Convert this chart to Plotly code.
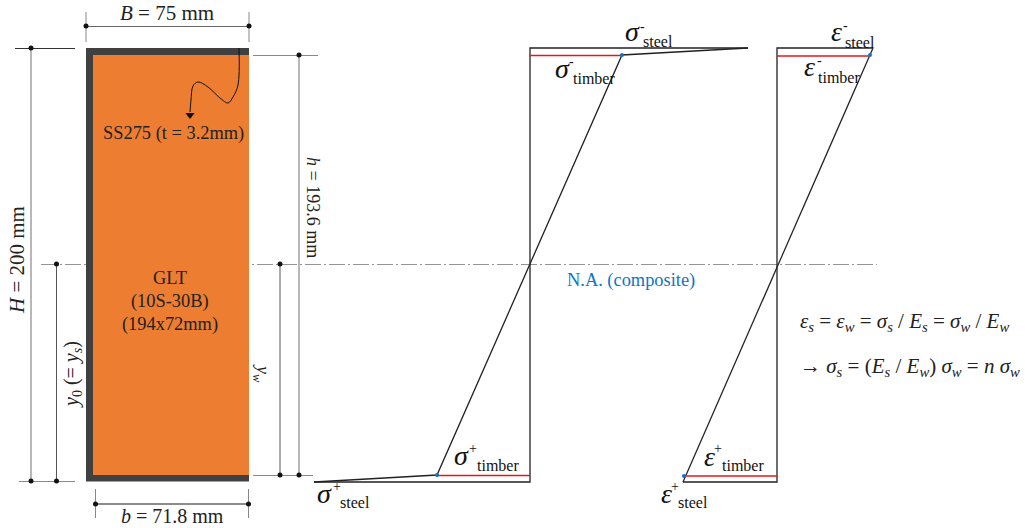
import plotly.graph_objects as go

SERIF = "Liberation Serif"
DARK = "#404040"
ORANGE = "#ED7D31"
BLUE = "#0B76C8"
RED = "#E01818"

# Section geometry (diagram coordinates)
flange_outer_x = [86, 249, 249, 86, 86]
flange_outer_y = [48, 48, 481.5, 481.5, 48]
timber_x = [93, 249, 249, 93, 93]
timber_y = [55, 55, 475, 475, 55]

# Dimension lines: x list, y list, colour, width
dims = [
    ([86, 249], [26.5, 26.5], "#666666", 1.2),
    ([86, 86], [12, 42], "#888888", 1),
    ([249, 249], [12, 42], "#888888", 1),
    ([15, 75], [48.5, 48.5], "#333333", 1.2),
    ([31, 31], [48, 481], "#888888", 1.2),
    ([19, 75], [481.5, 481.5], "#888888", 1),
    ([253, 318], [55.5, 55.5], "#888888", 1),
    ([299, 299], [55, 475], "#888888", 1.2),
    ([253, 313], [475.5, 475.5], "#888888", 1),
    ([56.5, 56.5], [264, 481], "#555555", 1),
    ([280, 280], [264, 475], "#555555", 1),
    ([95.5, 248.5], [504, 504], "#666666", 1.6),
    ([95.5, 95.5], [489, 518], "#888888", 1),
    ([248.5, 248.5], [489, 518], "#888888", 1),
]
dim_dots_x = [86, 249, 31, 31, 299, 299, 56.5, 56.5, 280, 280, 95.5, 248.5]
dim_dots_y = [26, 26, 48, 481, 55, 475, 264, 481, 264, 475, 504, 504]

na_x = [41, 877]
na_y = [264.5, 264.5]

# Leader curve
leader_x = [239, 238, 233, 228, 220, 208, 198, 193, 191, 190]
leader_y = [48, 85, 97, 103, 98, 87, 82, 86, 100, 112]
arrow_x = [190]
arrow_y = [115]

# Stress diagram
stress_x = [748, 530, 530, 314]
stress_y = [48, 48, 482, 482]
stress_diag_x = [748, 622, 437, 314]
stress_diag_y = [48, 55, 475, 482]
stress_red_top_x = [530, 622]
stress_red_top_y = [55.5, 55.5]
stress_red_bot_x = [437, 530]
stress_red_bot_y = [475.5, 475.5]
stress_dots_x = [622, 437]
stress_dots_y = [55, 475]

# Strain diagram
strain_x = [873, 777, 777, 683]
strain_y = [48, 48, 482, 482]
strain_diag_x = [873, 683]
strain_diag_y = [48, 482]
strain_red_top_x = [777, 870]
strain_red_top_y = [56, 56]
strain_red_bot_x = [684, 777]
strain_red_bot_y = [476, 476]
strain_dots_x = [870, 684]
strain_dots_y = [55, 476]

fig = go.Figure()

def line(x, y, color, width, dash=None, shape=None):
    fig.add_trace(go.Scatter(x=x, y=y, mode="lines",
                             line=dict(color=color, width=width, dash=dash, shape=shape or "linear"),
                             hoverinfo="skip"))

def dots(x, y, color, size):
    fig.add_trace(go.Scatter(x=x, y=y, mode="markers",
                             marker=dict(color=color, size=size), hoverinfo="skip"))

line(na_x, na_y, "#777777", 0.8, dash="16px,3px,2px,3px")
fig.add_trace(go.Scatter(x=flange_outer_x, y=flange_outer_y, mode="lines", fill="toself",
                         fillcolor=DARK, line=dict(width=0), hoverinfo="skip"))
fig.add_trace(go.Scatter(x=timber_x, y=timber_y, mode="lines", fill="toself",
                         fillcolor=ORANGE, line=dict(width=0), hoverinfo="skip"))
for dx, dy, c, w in dims:
    line(dx, dy, c, w)
dots(dim_dots_x, dim_dots_y, "#111111", 5)
line(leader_x, leader_y, "#111111", 1, shape="spline")
fig.add_trace(go.Scatter(x=arrow_x, y=arrow_y, mode="markers",
                         marker=dict(symbol="triangle-down", color="#111111", size=8), hoverinfo="skip"))

line(stress_x, stress_y, "#222222", 1.3)
line(stress_diag_x, stress_diag_y, "#222222", 1.3)
line(stress_red_top_x, stress_red_top_y, RED, 1.4)
line(stress_red_bot_x, stress_red_bot_y, RED, 1.4)
dots(stress_dots_x, stress_dots_y, BLUE, 4)

line(strain_x, strain_y, "#222222", 1.3)
line(strain_diag_x, strain_diag_y, "#222222", 1.3)
line(strain_red_top_x, strain_red_top_y, RED, 1.6)
line(strain_red_bot_x, strain_red_bot_y, RED, 1.6)
dots(strain_dots_x, strain_dots_y, BLUE, 4)

def txt(x, y, s, size=16, color="#222222", angle=0, anchor="center"):
    fig.add_annotation(x=x, y=y, text=s, showarrow=False, textangle=angle,
                       xanchor=anchor, yanchor="middle",
                       font=dict(family=SERIF, size=size, color=color))

txt(167, 13, "<i>B</i> = 75 mm", 21)
txt(173, 133, "SS275 (t = 3.2mm)", 18.4)
txt(170, 278, "GLT", 18.4)
txt(170, 301, "(10S-30B)", 18.4)
txt(170, 324, "(194x72mm)", 18.4)
txt(172, 515.5, "<i>b</i> = 71.8 mm", 20)
txt(17, 260, "<i>H</i> = 200 mm", 21, angle=-90)
txt(313, 207, "<i>h</i> = 193.6 mm", 18, angle=90)
txt(72, 375, "<i>y</i><sub>0</sub> (= <i>y<sub>s</sub></i>)", 20, angle=-90)
txt(262, 373, "<i>y<sub>w</sub></i>", 18, angle=90)
txt(631, 280, "N.A. (composite)", 18.4, color=BLUE)

def label(sx, sy, supx, supy, subx, suby, sym, sup, sub):
    txt(sx, sy - 2, "<i>%s</i>" % sym, 28, color="#111111")
    txt(supx, supy, sup, 14, color="#111111")
    txt(subx - 2, suby, sub, 16, color="#111111", anchor="left")

label(632, 33, 642, 26, 643, 41, "σ", "-", "steel")
label(562, 70, 571, 61, 573, 78, "σ", "-", "timber")
label(461, 457, 473, 448, 477, 465, "σ", "+", "timber")
label(324, 495, 337, 486, 340, 502, "σ", "+", "steel")
label(836, 33, 845, 25, 845, 42, "ε", "-", "steel")
label(809, 68, 819, 60, 818, 77, "ε", "-", "timber")
label(709, 458, 718, 448, 722, 465, "ε", "+", "timber")
label(666, 495, 675, 486, 678, 502, "ε", "+", "steel")

txt(798, 322, "<i>ε<sub>s</sub></i> = <i>ε<sub>w</sub></i> = <i>σ<sub>s</sub></i> / <i>E<sub>s</sub></i> = <i>σ<sub>w</sub></i> / <i>E<sub>w</sub></i>", 21, anchor="left")
txt(798, 367, "→ <i>σ<sub>s</sub></i> = (<i>E<sub>s</sub></i> / <i>E<sub>w</sub></i>) <i>σ<sub>w</sub></i> = <i>n σ<sub>w</sub></i>", 21, anchor="left")

fig.update_layout(
    width=1025, height=528, margin=dict(l=0, r=0, t=0, b=0),
    plot_bgcolor="white", paper_bgcolor="white", showlegend=False,
    xaxis=dict(range=[0, 1025], visible=False, fixedrange=True),
    yaxis=dict(range=[528, 0], visible=False, fixedrange=True),
)
fig.write_html("out.html", config={"displayModeBar": False},
               post_script="document.body.style.margin='0';")
